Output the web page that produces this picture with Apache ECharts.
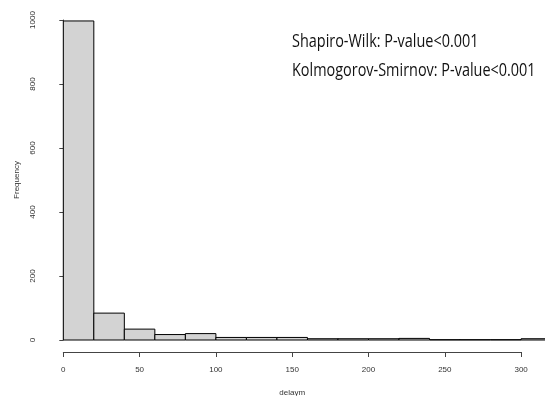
<!DOCTYPE html>
<html><head><meta charset="utf-8">
<script src="https://cdn.jsdelivr.net/npm/echarts@6/dist/echarts.min.js"></script>
<style>html,body{margin:0;padding:0;background:#fff}#c{width:545px;height:396px}</style>
</head><body><div id="c"></div>
<script>
const binStarts = [0,20,40,60,80,100,120,140,160,180,200,220,240,260,280,300];
const binWidth = 20;
const counts = [997,84,34,17,20,8,8,8,4,4,4,5,1,1,1,4];
const xTicks = [0,50,100,150,200,250,300];
const yTicks = [0,200,400,600,800,1000];
const annotations = ["Shapiro-Wilk: P-value<0.001","Kolmogorov-Smirnov: P-value<0.001"];

const data = binStarts.map((s,i)=>[s, s+binWidth, counts[i]]);
const chart = echarts.init(document.getElementById('c'), null, {renderer:'canvas'});
const axisFont = {fontFamily:'Liberation Sans', fontSize:8, color:'#333'};
chart.setOption({
  animation:false,
  backgroundColor:'#fff',
  grid:[
    {left:63.3, right:-6.6, top:20, bottom:56, containLabel:false, outerBoundsMode:'none'},
    {left:63.3, right:23.9, top:20, bottom:44, containLabel:false, outerBoundsMode:'none'}
  ],
  xAxis:[
    {gridIndex:0, type:'value', min:0, max:320, show:false},
    {gridIndex:1, type:'value', min:0, max:300, interval:50,
     axisLine:{show:true, lineStyle:{color:'#444', width:1}},
     axisTick:{show:true, length:5, lineStyle:{color:'#444'}},
     splitLine:{show:false},
     axisLabel:Object.assign({margin:14, formatter:v=>xTicks.includes(v)?String(v):''}, axisFont),
     name:'delaym', nameLocation:'middle', nameGap:37,
     nameTextStyle:{fontFamily:'Liberation Sans', fontSize:8, color:'#333'}}
  ],
  yAxis:[
    {gridIndex:0, type:'value', min:0, max:1000, interval:200, offset:19,
     axisLine:{show:true, lineStyle:{color:'#444', width:1}},
     axisTick:{show:true, length:4, lineStyle:{color:'#444'}},
     splitLine:{show:false},
     axisLabel:Object.assign({rotate:90, margin:8, formatter:v=>yTicks.includes(v)?String(v):''}, axisFont),
     name:'Frequency', nameLocation:'middle', nameGap:24,
     nameTextStyle:{fontFamily:'Liberation Sans', fontSize:8, color:'#333'}},
    {gridIndex:1, type:'value', show:false}
  ],
  series:[{
    type:'custom', xAxisIndex:0, yAxisIndex:0, clip:false,
    data:data,
    renderItem:function(params, api){
      const p0 = api.coord([api.value(0), api.value(2)]);
      const p1 = api.coord([api.value(1), 0]);
      return {type:'rect', shape:{x:p0[0], y:p0[1], width:p1[0]-p0[0], height:p1[1]-p0[1]},
        style:{fill:'#d3d3d3', stroke:'#000', lineWidth:1}};
    }
  }],
  graphic:[
    {type:'text', x:292, y:42, scaleX:0.76, style:{text:annotations[0], font:'19px "Open Sans"', fill:'#111', textAlign:'left', textVerticalAlign:'middle'}},
    {type:'text', x:292, y:71, scaleX:0.76, style:{text:annotations[1], font:'19px "Open Sans"', fill:'#111', textAlign:'left', textVerticalAlign:'middle'}}
  ]
});
</script></body></html>
